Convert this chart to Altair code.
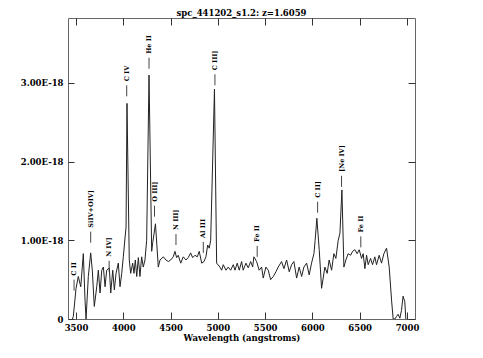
import altair as alt
import pandas as pd

# Spectrum (flux in units of 1E-18)
wavelength = [3462, 3471, 3500, 3524, 3550, 3577, 3595, 3606, 3630, 3655,
              3672, 3693, 3719, 3736, 3754, 3772, 3789, 3807, 3824, 3852,
              3867, 3888, 3905, 3923, 3947, 3965, 3983, 4000, 4029, 4039,
              4063, 4078, 4099, 4113, 4127, 4142, 4159, 4176, 4194, 4211,
              4229, 4247, 4272, 4300, 4311, 4340, 4370, 4388, 4423, 4451,
              4476, 4501, 4528, 4546, 4564, 4581, 4607, 4634, 4663, 4687,
              4712, 4733, 4758, 4782, 4803, 4829, 4853, 4874, 4892, 4909,
              4924, 4964, 4987, 5022, 5040, 5057, 5086, 5110, 5135, 5163,
              5181, 5205, 5226, 5251, 5268, 5297, 5321, 5347, 5368, 5381,
              5410, 5437, 5463, 5480, 5508, 5533, 5558, 5586, 5614, 5638,
              5674, 5699, 5727, 5755, 5780, 5804, 5833, 5860, 5886, 5910,
              5939, 5966, 5991, 6016, 6029, 6047, 6072, 6097, 6132, 6156,
              6177, 6203, 6227, 6248, 6273, 6291, 6312, 6333, 6354, 6378,
              6404, 6425, 6449, 6473, 6495, 6520, 6537, 6555, 6573, 6590,
              6615, 6636, 6660, 6678, 6706, 6731, 6756, 6784, 6812, 6837,
              6854, 6872, 6889, 6906, 6925, 6942, 6959, 6977, 6988]
flux = [0.0, 0.03, 0.39, 0.54, 0.41, 0.83, 0.24, 0.0, 0.54, 0.84,
        0.62, 0.16, 0.41, 0.62, 0.33, 0.62, 0.66, 0.41, 0.62, 0.65,
        0.33, 0.62, 0.37, 0.58, 0.71, 0.41, 0.58, 0.79, 1.17, 2.74,
        0.75, 0.58, 0.71, 0.58, 0.75, 0.54, 0.78, 0.54, 0.79, 0.66,
        0.75, 1.00, 3.10, 0.86, 0.97, 1.21, 0.66, 0.75, 0.79, 0.75,
        0.73, 0.75, 0.79, 0.86, 0.78, 0.81, 0.71, 0.79, 0.75, 0.78,
        0.84, 0.78, 0.81, 0.79, 0.86, 0.71, 0.73, 0.79, 0.94, 0.90,
        1.00, 2.92, 0.71, 0.66, 0.62, 0.69, 0.62, 0.66, 0.62, 0.69,
        0.62, 0.71, 0.62, 0.73, 0.62, 0.71, 0.65, 0.73, 0.66, 0.79,
        0.73, 0.62, 0.66, 0.52, 0.66, 0.62, 0.50, 0.54, 0.60, 0.66,
        0.73, 0.64, 0.75, 0.60, 0.69, 0.73, 0.52, 0.66, 0.54, 0.66,
        0.71, 0.56, 0.71, 0.83, 1.00, 1.28, 0.88, 0.39, 0.66, 0.58,
        0.75, 0.62, 0.83, 0.77, 1.00, 1.09, 1.64, 0.66, 0.75, 0.83,
        0.81, 0.86, 0.88, 0.83, 0.88, 0.77, 0.83, 0.64, 0.81, 0.69,
        0.77, 0.69, 0.79, 0.69, 0.81, 0.71, 0.83, 0.90, 0.66, 0.24,
        0.0, 0.0, 0.03, 0.06, 0.01, 0.11, 0.29, 0.22, 0.0]

# Line identifications
line_names = ["C II", "SiIV+OIV]", "N IV]", "C IV", "He II", "O III]", "N III]",
              "Al III", "C III]", "Fe II", "C II]", "[Ne IV]", "Fe II"]
line_waves = [3479, 3655, 3850, 4036, 4272, 4330, 4557, 4846, 4969, 5416, 6055, 6308, 6512]
line_levels = [0.36, 0.97, 0.60, 2.83, 3.18, 1.30, 0.94, 0.84, 2.97, 0.79, 1.35, 1.68, 0.91]

x_ticks = [3500, 4000, 4500, 5000, 5500, 6000, 6500, 7000]
y_ticks = [0, 1, 2, 3]

spec = pd.DataFrame({"wave": wavelength, "flux": flux})
lab = pd.DataFrame({"name": line_names, "wave": line_waves, "y0": line_levels})
lab["y1"] = lab["y0"] + 0.14
lab["yt"] = lab["y0"] + 0.19

FONT = "DejaVu Serif"

xs = alt.Scale(domain=[3415, 7085], nice=False, zero=False)
ys = alt.Scale(domain=[0, 3.825], nice=False, zero=False)

common = dict(grid=False, domain=False, tickColor="#333", tickWidth=1,
              labelFont=FONT, labelFontWeight="bold", labelColor="black",
              titleFont=FONT, titleFontWeight="bold", titleColor="black",
              labelFlush=False, labelOverlap=False)

x_bottom = alt.Axis(orient="bottom", values=x_ticks, offset=-7, tickSize=7,
                    labelFontSize=8.5, labelPadding=4, title="Wavelength (angstroms)",
                    titleFontSize=8.5, titlePadding=2, format="d", **common)
x_top = alt.Axis(orient="top", values=x_ticks, offset=-7, tickSize=7,
                 labels=False, title=None, **common)
y_left = alt.Axis(orient="left", values=y_ticks, offset=-6, tickSize=6,
                  labelFontSize=8.5, labelPadding=5, title=None,
                  labelExpr="datum.value == 0 ? '0' : format(datum.value, '.2f') + 'E-18'",
                  **common)
y_right = alt.Axis(orient="right", values=y_ticks, offset=-7, tickSize=7,
                   labels=False, title=None, **common)

line = alt.Chart(spec).mark_line(color="#222", strokeWidth=1, clip=True).encode(
    x=alt.X("wave:Q", scale=xs, axis=x_bottom),
    y=alt.Y("flux:Q", scale=ys, axis=y_left),
)
frame = alt.Chart(spec).mark_line(opacity=0).encode(
    x=alt.X("wave:Q", scale=xs, axis=x_top),
    y=alt.Y("flux:Q", scale=ys, axis=y_right),
)
ticks = alt.Chart(lab).mark_rule(color="#444", strokeWidth=1).encode(
    x=alt.X("wave:Q", scale=xs, axis=None),
    y=alt.Y("y0:Q", scale=ys, axis=None),
    y2="y1:Q",
)
texts = alt.Chart(lab).mark_text(angle=270, align="left", baseline="middle",
                                 font=FONT, fontSize=6.5, fontWeight="bold",
                                 color="black").encode(
    x=alt.X("wave:Q", scale=xs, axis=None),
    y=alt.Y("yt:Q", scale=ys, axis=None),
    text="name:N",
)

chart = alt.layer(line, frame, ticks, texts).resolve_axis(
    x="independent", y="independent"
).properties(
    width=347, height=301,
    padding={"left": 60, "top": 10, "right": 50, "bottom": 30},
    autosize=alt.AutoSizeParams(type="none"),
    title=alt.TitleParams(text="spc_441202_s1.2: z=1.6059", font=FONT, fontSize=8.5,
                          fontWeight="bold", color="black", anchor="middle",
                          baseline="bottom", offset=0, dy=9),
).configure_view(stroke="#666", strokeWidth=1)

chart.save("out.html", embed_options={"renderer": "svg", "actions": False})
